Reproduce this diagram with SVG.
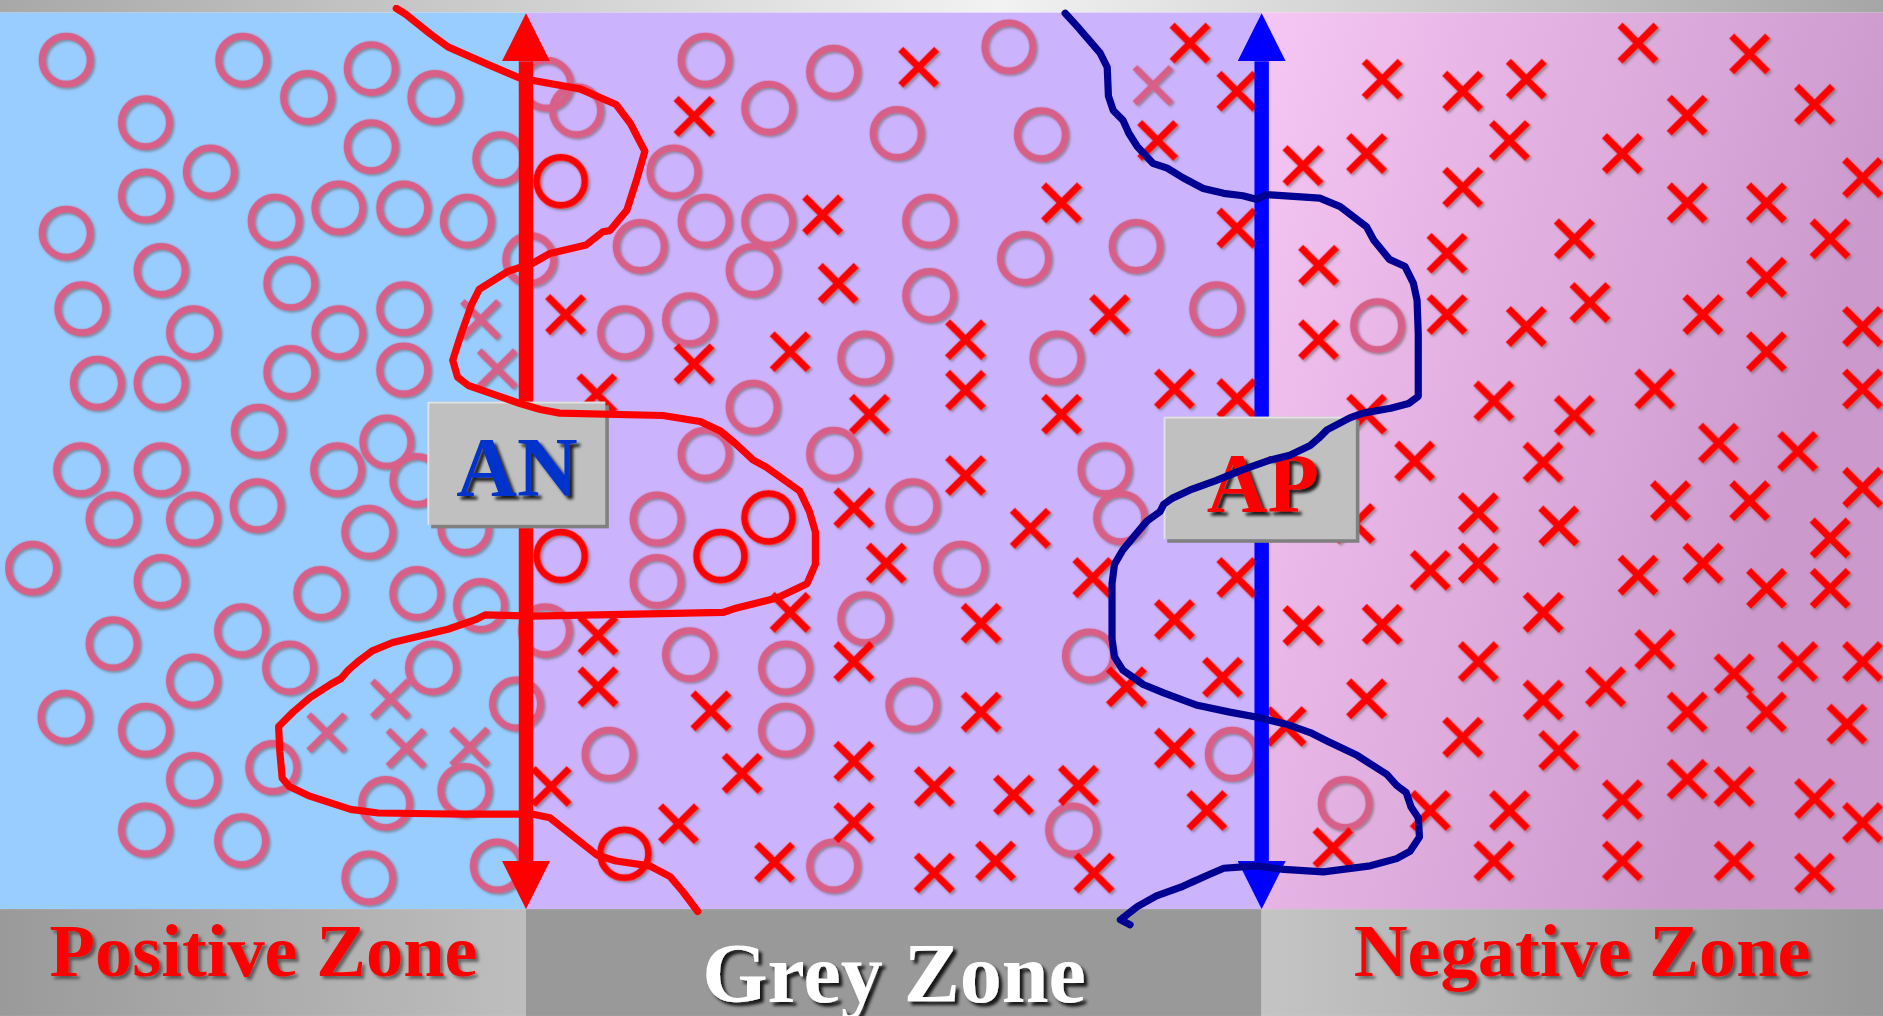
<svg xmlns="http://www.w3.org/2000/svg" xmlns:xlink="http://www.w3.org/1999/xlink" width="1883" height="1016" viewBox="0 0 1883 1016">
<defs>
<style>
.o{fill:none;stroke:#d86088;stroke-width:5.8}
.or{fill:none;stroke:#ff0000;stroke-width:5.8}
.xr{fill:none;stroke:#ff0000;stroke-width:6}
.xp{fill:none;stroke:#d86088;stroke-width:5.4}
.lbl{font-family:"Liberation Serif","Times New Roman",serif;font-weight:bold;text-anchor:middle}
.curve{fill:none;stroke-width:6;stroke-linejoin:round;stroke-linecap:round}
</style>
<linearGradient id="gTop" x1="0" y1="0" x2="1568" y2="0" gradientUnits="userSpaceOnUse">
<stop offset="0" stop-color="#a8a8a8"/><stop offset="0.53" stop-color="#f2f2f2"/><stop offset="1" stop-color="#a6a6a6"/>
</linearGradient>
<linearGradient id="gNeg" x1="1050" y1="0" x2="1568" y2="150" gradientUnits="userSpaceOnUse">
<stop offset="0" stop-color="#f6c6f4"/><stop offset="1" stop-color="#cc99cc"/>
</linearGradient>
<linearGradient id="gBandP" x1="0" y1="0" x2="438" y2="0" gradientUnits="userSpaceOnUse">
<stop offset="0" stop-color="#9a9a9a"/><stop offset="1" stop-color="#bebebe"/>
</linearGradient>
<linearGradient id="gBandN" x1="1050" y1="0" x2="1568" y2="0" gradientUnits="userSpaceOnUse">
<stop offset="0" stop-color="#c4c4c4"/><stop offset="1" stop-color="#989898"/>
</linearGradient>
<filter id="shM" x="-5%" y="-5%" width="110%" height="110%">
<feDropShadow dx="1.5" dy="1.5" stdDeviation="0.8" flood-color="#666666" flood-opacity="0.6"/>
</filter>
<filter id="shT" x="-10%" y="-20%" width="120%" height="140%">
<feDropShadow dx="2.5" dy="2.5" stdDeviation="1.5" flood-color="#000000" flood-opacity="0.45"/>
</filter>
<filter id="shD" x="-10%" y="-20%" width="120%" height="140%">
<feDropShadow dx="3" dy="3" stdDeviation="1.5" flood-color="#000000" flood-opacity="0.85"/>
</filter>
<path id="x" d="M-15,-15L15,15M15,-15L-15,15"/>
<marker id="headR" markerUnits="userSpaceOnUse" markerWidth="40" markerHeight="40" refX="0" refY="20" orient="auto-start-reverse" viewBox="0 0 40 40">
<path d="M0,0L40,20L0,40Z" fill="#ff0000"/>
</marker>
<marker id="headB" markerUnits="userSpaceOnUse" markerWidth="40" markerHeight="40" refX="0" refY="20" orient="auto-start-reverse" viewBox="0 0 40 40">
<path d="M0,0L40,20L0,40Z" fill="#0000ff"/>
</marker>
</defs>
<g transform="scale(1.2009)">
<g id="zones">
<rect x="0" y="0" width="1568" height="10.5" fill="url(#gTop)"/>
<rect x="0" y="10.5" width="438" height="746.5" fill="#99ccff"/>
<rect x="438" y="10.5" width="612.6" height="746.5" fill="#ccb3fd"/>
<rect x="1050.6" y="10.5" width="517.4" height="746.5" fill="url(#gNeg)"/>
<rect x="0" y="757" width="438" height="89" fill="url(#gBandP)"/>
<rect x="438" y="757" width="612.6" height="89" fill="#999999"/>
<rect x="1050.6" y="757" width="517.4" height="89" fill="url(#gBandN)"/>
</g>
<g id="markers" filter="url(#shM)">
<g id="circles-pos">
<circle class="o" cx="55" cy="50" r="20"/><circle class="o" cx="202" cy="50" r="20"/><circle class="o" cx="309" cy="57" r="20"/><circle class="o" cx="256" cy="81" r="20"/><circle class="o" cx="362" cy="81" r="20"/>
<circle class="o" cx="121" cy="102" r="20"/><circle class="o" cx="309" cy="122" r="20"/><circle class="o" cx="416" cy="132" r="20"/><circle class="o" cx="175" cy="143" r="20"/><circle class="o" cx="121" cy="163" r="20"/>
<circle class="o" cx="282" cy="173" r="20"/><circle class="o" cx="336" cy="173" r="20"/><circle class="o" cx="229" cy="184" r="20"/><circle class="o" cx="389" cy="184" r="20"/><circle class="o" cx="55" cy="194" r="20"/>
<circle class="o" cx="134" cy="225" r="20"/><circle class="o" cx="242" cy="236" r="20"/><circle class="o" cx="68" cy="257" r="20"/><circle class="o" cx="336" cy="257" r="20"/><circle class="o" cx="282" cy="277" r="20"/>
<circle class="o" cx="161" cy="277" r="20"/><circle class="o" cx="81" cy="319" r="20"/><circle class="o" cx="134" cy="319" r="20"/><circle class="o" cx="242" cy="310" r="20"/><circle class="o" cx="336" cy="308" r="20"/>
<circle class="o" cx="215" cy="359" r="20"/><circle class="o" cx="322" cy="368" r="20"/><circle class="o" cx="67" cy="391" r="20"/><circle class="o" cx="134" cy="391" r="20"/><circle class="o" cx="281" cy="391" r="20"/>
<circle class="o" cx="347" cy="400" r="20"/><circle class="o" cx="94" cy="432" r="20"/><circle class="o" cx="161" cy="432" r="20"/><circle class="o" cx="214" cy="421" r="20"/><circle class="o" cx="307" cy="443" r="20"/>
<circle class="o" cx="387" cy="440" r="20"/><circle class="o" cx="27" cy="473" r="20"/><circle class="o" cx="134" cy="484" r="20"/><circle class="o" cx="267" cy="494" r="20"/><circle class="o" cx="347" cy="494" r="20"/>
<circle class="o" cx="400" cy="504" r="20"/><circle class="o" cx="201" cy="525" r="20"/><circle class="o" cx="94" cy="536" r="20"/><circle class="o" cx="241" cy="556" r="20"/><circle class="o" cx="161" cy="567" r="20"/>
<circle class="o" cx="360" cy="556" r="20"/><circle class="o" cx="430" cy="586" r="20"/><circle class="o" cx="54" cy="597" r="20"/><circle class="o" cx="121" cy="608" r="20"/><circle class="o" cx="227" cy="639" r="20"/>
<circle class="o" cx="161" cy="649" r="20"/><circle class="o" cx="321" cy="669" r="20"/><circle class="o" cx="387" cy="658" r="20"/><circle class="o" cx="121" cy="691" r="20"/><circle class="o" cx="201" cy="700" r="20"/>
<circle class="o" cx="307" cy="731" r="20"/><circle class="o" cx="414" cy="721" r="20"/><circle class="o" cx="441" cy="216" r="20"/>
<circle class="o" cx="455" cy="70" r="20"/><circle class="o" cx="480" cy="92" r="20"/><circle class="o" cx="587" cy="50" r="20"/><circle class="o" cx="694" cy="60" r="20"/><circle class="o" cx="640" cy="90" r="20"/>
<circle class="o" cx="747" cy="111" r="20"/><circle class="o" cx="561" cy="143" r="20"/><circle class="o" cx="587" cy="184" r="20"/><circle class="o" cx="640" cy="184" r="20"/><circle class="o" cx="774" cy="184" r="20"/>
<circle class="o" cx="533" cy="205" r="20"/><circle class="o" cx="627" cy="225" r="20"/><circle class="o" cx="774" cy="246" r="20"/><circle class="o" cx="574" cy="266" r="20"/><circle class="o" cx="520" cy="277" r="20"/>
<circle class="o" cx="720" cy="298" r="20"/><circle class="o" cx="627" cy="339" r="20"/><circle class="o" cx="587" cy="378" r="20"/><circle class="o" cx="694" cy="378" r="20"/><circle class="o" cx="760" cy="421" r="20"/>
<circle class="o" cx="547" cy="432" r="20"/><circle class="o" cx="800" cy="473" r="20"/><circle class="o" cx="547" cy="484" r="20"/><circle class="o" cx="720" cy="515" r="20"/><circle class="o" cx="454" cy="525" r="20"/>
<circle class="o" cx="574" cy="545" r="20"/><circle class="o" cx="654" cy="556" r="20"/><circle class="o" cx="760" cy="587" r="20"/><circle class="o" cx="654" cy="608" r="20"/><circle class="o" cx="507" cy="628" r="20"/>
<circle class="o" cx="694" cy="721" r="20"/><circle class="o" cx="840" cy="39" r="20"/><circle class="o" cx="867" cy="112" r="20"/><circle class="o" cx="853" cy="215" r="20"/><circle class="o" cx="946" cy="205" r="20"/>
<circle class="o" cx="1013" cy="257" r="20"/><circle class="o" cx="880" cy="298" r="20"/><circle class="o" cx="920" cy="391" r="20"/><circle class="o" cx="933" cy="431" r="20"/><circle class="o" cx="907" cy="546" r="20"/>
<circle class="o" cx="1026" cy="628" r="20"/><circle class="o" cx="893" cy="691" r="20"/><circle class="o" cx="1147" cy="271" r="20"/><circle class="o" cx="1120" cy="669" r="20"/>
</g>
<g id="circles-err">
<circle class="or" cx="467" cy="151" r="20"/><circle class="or" cx="640" cy="431" r="20"/><circle class="or" cx="467" cy="463" r="20"/><circle class="or" cx="600" cy="463" r="20"/><circle class="or" cx="520" cy="711" r="20"/>
</g>
<g id="crosses-pale" class="xp">
<use href="#x" x="400" y="266"/><use href="#x" x="414" y="307"/><use href="#x" x="272" y="610"/><use href="#x" x="325" y="582"/><use href="#x" x="338" y="623"/><use href="#x" x="391" y="622"/><use href="#x" x="960" y="71"/>
</g>
<g id="crosses-neg" class="xr">
<use href="#x" x="765" y="56"/><use href="#x" x="578" y="97"/><use href="#x" x="685" y="179"/><use href="#x" x="698" y="236"/><use href="#x" x="471" y="262"/>
<use href="#x" x="578" y="303"/><use href="#x" x="658" y="293"/><use href="#x" x="804" y="283"/><use href="#x" x="804" y="325"/><use href="#x" x="724" y="345"/>
<use href="#x" x="497" y="328"/><use href="#x" x="804" y="396"/><use href="#x" x="711" y="423"/><use href="#x" x="738" y="469"/><use href="#x" x="658" y="510"/>
<use href="#x" x="817" y="519"/><use href="#x" x="498" y="529"/><use href="#x" x="498" y="572"/><use href="#x" x="711" y="551"/><use href="#x" x="592" y="592"/>
<use href="#x" x="817" y="593"/><use href="#x" x="618" y="644"/><use href="#x" x="711" y="634"/><use href="#x" x="778" y="655"/><use href="#x" x="459" y="655"/>
<use href="#x" x="565" y="686"/><use href="#x" x="711" y="685"/><use href="#x" x="645" y="718"/><use href="#x" x="778" y="727"/><use href="#x" x="829" y="717"/>
<use href="#x" x="844" y="662"/><use href="#x" x="991" y="36"/><use href="#x" x="1030" y="76"/><use href="#x" x="964" y="117"/><use href="#x" x="884" y="169"/>
<use href="#x" x="1030" y="190"/><use href="#x" x="924" y="262"/><use href="#x" x="978" y="324"/><use href="#x" x="1030" y="332"/><use href="#x" x="884" y="345"/>
<use href="#x" x="858" y="440"/><use href="#x" x="910" y="481"/><use href="#x" x="1030" y="481"/><use href="#x" x="978" y="516"/><use href="#x" x="1018" y="564"/>
<use href="#x" x="938" y="572"/><use href="#x" x="978" y="623"/><use href="#x" x="898" y="654"/><use href="#x" x="1005" y="675"/><use href="#x" x="911" y="727"/>
<use href="#x" x="1085" y="138"/><use href="#x" x="1138" y="128"/><use href="#x" x="1151" y="66"/><use href="#x" x="1218" y="76"/><use href="#x" x="1218" y="156"/>
<use href="#x" x="1098" y="221"/><use href="#x" x="1098" y="283"/><use href="#x" x="1205" y="211"/><use href="#x" x="1205" y="262"/><use href="#x" x="1138" y="345"/>
<use href="#x" x="1178" y="384"/><use href="#x" x="1128" y="436"/><use href="#x" x="1191" y="475"/><use href="#x" x="1085" y="521"/><use href="#x" x="1151" y="520"/>
<use href="#x" x="1138" y="582"/><use href="#x" x="1071" y="605"/><use href="#x" x="1191" y="675"/><use href="#x" x="1110" y="706"/>
<use href="#x" x="1364" y="36"/><use href="#x" x="1457" y="45"/><use href="#x" x="1271" y="66"/><use href="#x" x="1405" y="96"/><use href="#x" x="1511" y="87"/>
<use href="#x" x="1257" y="117"/><use href="#x" x="1351" y="128"/><use href="#x" x="1551" y="148"/><use href="#x" x="1405" y="169"/><use href="#x" x="1471" y="169"/>
<use href="#x" x="1311" y="199"/><use href="#x" x="1524" y="199"/><use href="#x" x="1471" y="231"/><use href="#x" x="1324" y="252"/><use href="#x" x="1271" y="272"/>
<use href="#x" x="1418" y="262"/><use href="#x" x="1471" y="293"/><use href="#x" x="1551" y="272"/><use href="#x" x="1244" y="334"/><use href="#x" x="1311" y="346"/>
<use href="#x" x="1378" y="324"/><use href="#x" x="1551" y="324"/><use href="#x" x="1431" y="369"/><use href="#x" x="1497" y="376"/><use href="#x" x="1285" y="385"/>
<use href="#x" x="1231" y="427"/><use href="#x" x="1298" y="438"/><use href="#x" x="1391" y="417"/><use href="#x" x="1457" y="417"/><use href="#x" x="1551" y="406"/>
<use href="#x" x="1524" y="448"/><use href="#x" x="1231" y="469"/><use href="#x" x="1364" y="479"/><use href="#x" x="1418" y="469"/><use href="#x" x="1471" y="490"/>
<use href="#x" x="1524" y="490"/><use href="#x" x="1285" y="510"/><use href="#x" x="1231" y="551"/><use href="#x" x="1378" y="541"/><use href="#x" x="1337" y="572"/>
<use href="#x" x="1285" y="583"/><use href="#x" x="1444" y="561"/><use href="#x" x="1497" y="551"/><use href="#x" x="1551" y="551"/><use href="#x" x="1405" y="593"/>
<use href="#x" x="1471" y="593"/><use href="#x" x="1538" y="603"/><use href="#x" x="1218" y="614"/><use href="#x" x="1298" y="625"/><use href="#x" x="1405" y="649"/>
<use href="#x" x="1444" y="655"/><use href="#x" x="1511" y="665"/><use href="#x" x="1551" y="685"/><use href="#x" x="1351" y="666"/><use href="#x" x="1257" y="675"/>
<use href="#x" x="1244" y="717"/><use href="#x" x="1351" y="717"/><use href="#x" x="1444" y="717"/><use href="#x" x="1511" y="727"/>
</g>
</g>
<g id="connectors">
<line id="arrow-AN" x1="438" y1="51" x2="438" y2="717" stroke="#ff0000" stroke-width="12" marker-start="url(#headR)" marker-end="url(#headR)"/>
<line id="arrow-AP" x1="1050.6" y1="51" x2="1050.6" y2="717" stroke="#0000ff" stroke-width="12" marker-start="url(#headB)" marker-end="url(#headB)"/>
</g>
<g id="node-AN">
<rect x="359" y="337.5" width="148" height="102.5" fill="#808080"/>
<rect x="356" y="334.5" width="148" height="102.5" fill="#c0c0c0"/>
<path d="M356.7,437V335.2H504" fill="none" stroke="#e2e2e2" stroke-width="1.5"/>
<text class="lbl" x="430.5" y="413" font-size="70" fill="#0033cc" filter="url(#shD)">AN</text>
</g>
<g id="node-AP">
<rect x="972" y="350" width="160" height="102" fill="#808080"/>
<rect x="969" y="347" width="160" height="102" fill="#c0c0c0"/>
<path d="M969.7,449V347.7H1129" fill="none" stroke="#e2e2e2" stroke-width="1.5"/>
<text class="lbl" x="1051.5" y="426" font-size="70" fill="#ff0000" filter="url(#shD)">AP</text>
</g>
<g id="boundaries">
<path id="boundary-AN" class="curve" stroke="#ff0000" d="M330,7 L338,12 L358,28 L373,39 L407,54 L433,65 L444,67 L483,74 L513,87 L525,103 L537,126 L530,150 L522,175 L508,192 L502,193 L488,204 L458,211 L444,219 L423,226 L399,241 L393,253 L384,278 L377,300 L381,314 L390,321 L413,329 L433,336 L450,341 L466,344 L552,346 L583,351 L600,359 L612,369 L627,383 L638,389 L652,399 L666,409 L674,426 L679,443 L679,470 L672,486 L647,498 L611,507 L602,510 L444,513 L404,512 L396,516 L373,524 L327,535 L310,542 L298,551 L290,558 L284,565 L275,570 L258,581 L244,593 L232,605 L233,626 L235,648 L241,655 L258,663 L292,674 L315,677 L387,678 L444,678 L458,681 L497,712 L513,717 L541,721 L558,730 L569,743 L581,759"/>
<path id="boundary-AP" class="curve" stroke="#000092" d="M887,11 L897,22 L916,44 L922,56 L923,80 L927,92 L935,100 L940,111 L947,122 L960,136 L972,140 L985,148 L1002,157 L1019,161 L1035,163 L1046,166 L1055,162 L1099,165 L1116,172 L1138,189 L1144,200 L1157,216 L1170,222 L1177,236 L1180,250 L1181,278 L1181,330 L1173,336 L1158,340 L1135,344 L1124,348 L1105,358 L1098,365 L1091,371 L1074,379 L1058,383 L1035,391 L1013,400 L991,408 L976,415 L969,420 L966,426 L955,434 L944,447 L935,458 L928,470 L926,486 L926,532 L928,547 L935,558 L952,570 L969,577 L996,587 L1024,593 L1046,597 L1071,603 L1091,610 L1105,617 L1130,629 L1155,645 L1163,654 L1171,660 L1175,672 L1181,681 L1182,697 L1174,709 L1163,715 L1141,721 L1102,726 L1069,724 L1046,721 L1019,723 L1005,729 L985,738 L963,746 L947,755 L938,762 L933,766 L941,770"/>
</g>
<g id="labels">
<text class="lbl" x="219.5" y="813" font-size="62" fill="#ff0000" filter="url(#shT)">Positive Zone</text>
<text class="lbl" x="744.5" y="834" font-size="70" fill="#ffffff" filter="url(#shD)">Grey Zone</text>
<text class="lbl" x="1317.5" y="813" font-size="62" fill="#ff0000" filter="url(#shT)">Negative Zone</text>
</g>
</g>
</svg>
